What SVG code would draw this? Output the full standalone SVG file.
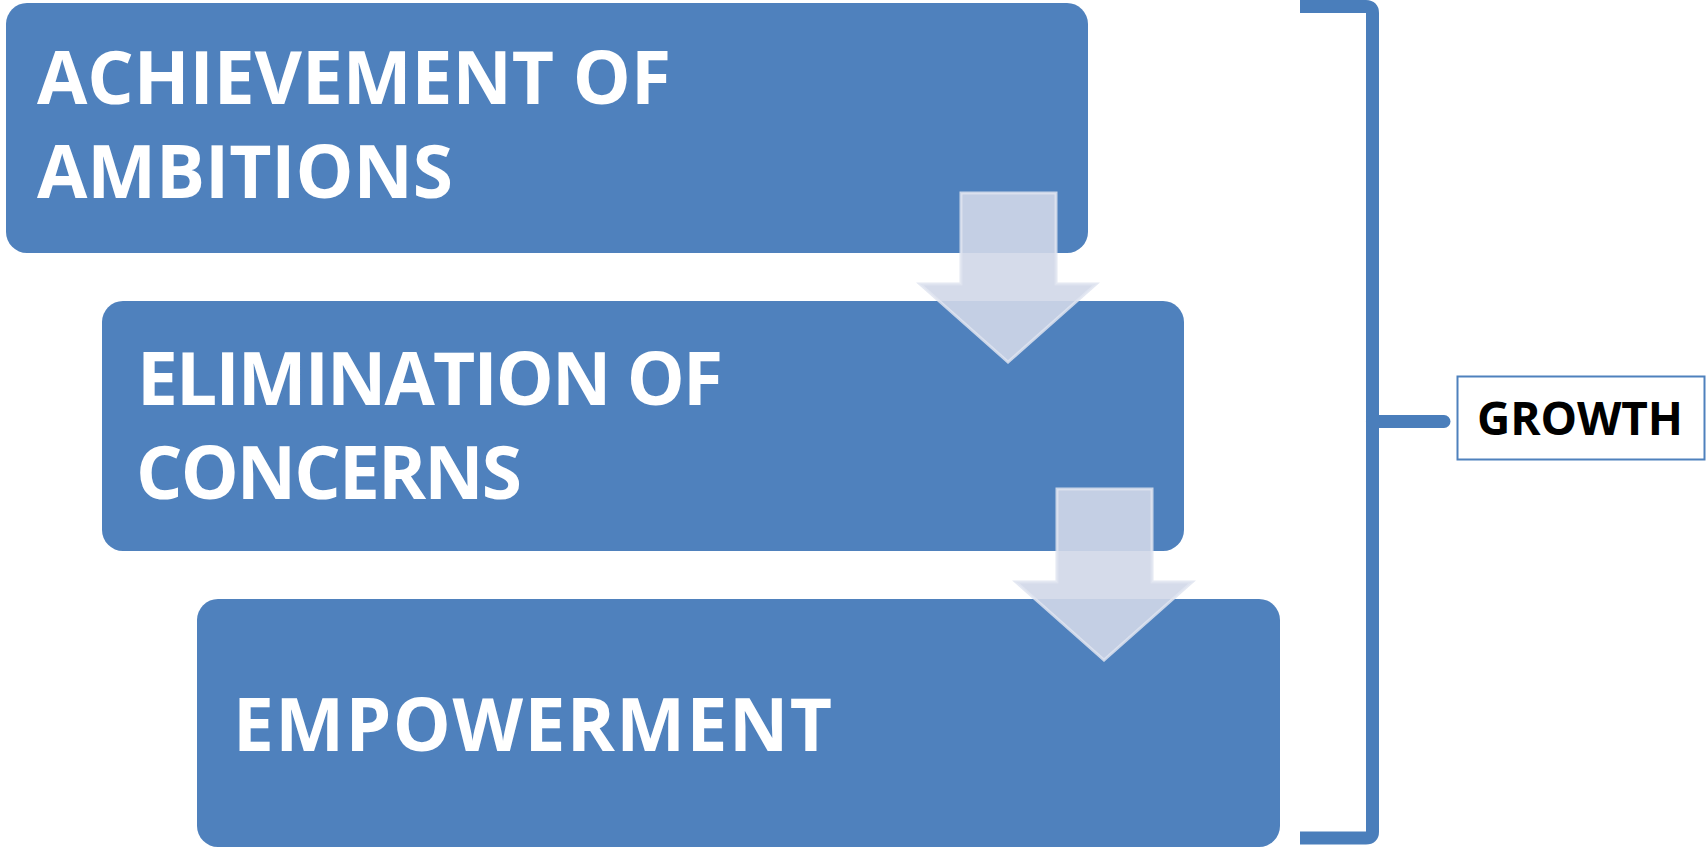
<svg xmlns="http://www.w3.org/2000/svg" width="1706" height="848" viewBox="0 0 1706 848">
<style>
.box{fill:#4f81bd;}
.lbl{font-family:"Open Sans","Liberation Sans",sans-serif;font-weight:bold;font-size:73px;fill:#ffffff;}
.arrow{fill:#d0d7e8;fill-opacity:0.9;stroke:#dfe4f0;stroke-opacity:0.85;stroke-width:3;stroke-linejoin:miter;}
.brk{fill:none;stroke:#4a7ebb;stroke-width:13;}
.glbl{font-family:"Open Sans","Liberation Sans",sans-serif;font-weight:bold;font-size:46px;fill:#000000;}
</style>
<rect width="1706" height="848" fill="#ffffff"/>
<g id="node-achievement">
<rect class="box" x="6" y="3" width="1082" height="250" rx="21" ry="21"/>
<text class="lbl" x="37" y="104" textLength="634" lengthAdjust="spacing">ACHIEVEMENT OF</text>
<text class="lbl" x="37" y="198" textLength="416" lengthAdjust="spacing">AMBITIONS</text>
</g>
<g id="node-elimination">
<rect class="box" x="102" y="301" width="1082" height="250" rx="21" ry="21"/>
<text class="lbl" x="137" y="405" textLength="586" lengthAdjust="spacing">ELIMINATION OF</text>
<text class="lbl" x="136" y="499" textLength="386" lengthAdjust="spacing">CONCERNS</text>
</g>
<g id="node-empowerment">
<rect class="box" x="197" y="599" width="1083" height="248" rx="21" ry="21"/>
<text class="lbl" x="233" y="751" textLength="599" lengthAdjust="spacing">EMPOWERMENT</text>
</g>
<g id="connectors">
<polygon class="arrow" points="961,193 1056,193 1056,284 1096,284 1008,362 920,284 961,284"/>
<polygon class="arrow" points="1057,489 1152,489 1152,582 1192,582 1104,660 1016,582 1057,582"/>
<path class="brk" d="M1300,6.5 H1366 Q1372.5,6.5 1372.5,13 V832 Q1372.5,838 1366,838 H1300"/>
<line x1="1372.5" y1="421.5" x2="1444" y2="421.5" stroke="#4a7ebb" stroke-width="13" stroke-linecap="round"/>
</g>
<g id="node-growth">
<rect x="1457.5" y="376.5" width="247" height="83" fill="#ffffff" stroke="#4f81bd" stroke-width="2"/>
<text class="glbl" x="1477" y="435" textLength="206" lengthAdjust="spacing">GROWTH</text>
</g>
</svg>
